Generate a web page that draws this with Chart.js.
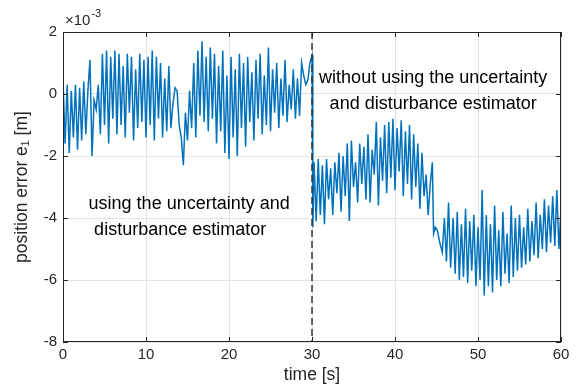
<!DOCTYPE html>
<html>
<head>
<meta charset="utf-8">
<script src="https://cdn.jsdelivr.net/npm/chart.js@4.4.1/dist/chart.umd.min.js"></script>
<style>
html,body{margin:0;padding:0;background:#fff;}
#wrap{width:581px;height:387px;position:relative;}
</style>
</head>
<body>
<div id="wrap"><canvas id="c" width="581" height="387"></canvas></div>
<script>
// time [s]
const timeS = [
0,0.25,0.5,0.75,1,1.25,1.5,1.75,2,2.25,2.5,2.75,3,3.25,3.5,3.75,4,4.25,4.5,4.75,
5,5.25,5.5,5.75,6,6.25,6.5,6.75,7,7.25,7.5,7.75,8,8.25,8.5,8.75,9,9.25,9.5,9.75,
10,10.25,10.5,10.75,11,11.25,11.5,11.75,12,12.25,12.5,12.75,13,13.25,13.5,13.75,14,14.25,14.5,14.75,
15,15.25,15.5,15.75,16,16.25,16.5,16.75,17,17.25,17.5,17.75,18,18.25,18.5,18.75,19,19.25,19.5,19.75,
20,20.25,20.5,20.75,21,21.25,21.5,21.75,22,22.25,22.5,22.75,23,23.25,23.5,23.75,24,24.25,24.5,24.75,
25,25.25,25.5,25.75,26,26.25,26.5,26.75,27,27.25,27.5,27.75,28,28.25,28.5,28.75,29,29.25,29.5,29.75,
30,30.1,30.25,30.5,30.75,31,31.25,31.5,31.75,32,32.25,32.5,32.75,33,33.25,33.5,33.75,34,34.25,34.5,34.75,
35,35.25,35.5,35.75,36,36.25,36.5,36.75,37,37.25,37.5,37.75,38,38.25,38.5,38.75,39,39.25,39.5,39.75,
40,40.25,40.5,40.75,41,41.25,41.5,41.75,42,42.25,42.5,42.75,43,43.25,43.5,43.75,44,44.25,44.5,44.65,
44.85,45.1,45.4,45.7,45.95,46.2,46.45,46.7,47,47.25,47.5,47.75,48,48.25,48.5,48.75,49,49.25,49.5,49.75,
50,50.25,50.5,50.75,51,51.25,51.5,51.75,52,52.25,52.5,52.75,53,53.25,53.5,53.75,54,54.25,54.5,54.75,
55,55.25,55.5,55.75,56,56.25,56.5,56.75,57,57.25,57.5,57.75,58,58.25,58.5,58.75,59,59.25,59.5,59.75,
60
];
// position error e1 [x10^-3 m]
const errorE1 = [
0.5,-1.6,0.3,-1.9,0.1,-1.4,0.3,-1.8,0.2,-1.5,0.4,-1.3,0.1,1.1,-2.0,-0.2,-0.5,0.3,-1.3,1.3,
-1.0,1.4,-1.6,1.2,-0.8,1.4,-1.3,1.3,-1.0,0.9,-1.4,1.3,-0.6,1.2,-1.5,0.8,-1.1,1.3,-0.9,1.1,
-1.4,1.2,-1.0,1.4,-1.5,1.2,-0.8,1.0,-1.4,0.5,-1.2,0.9,-1.1,-0.3,0.2,0.1,-1.0,-1.4,-2.3,-0.6,
-1.5,0.1,-1.1,1.0,-1.4,1.4,-0.7,1.7,-0.9,1.2,-1.2,1.5,-0.8,1.3,-1.6,0.9,-1.2,1.4,-1.9,0.6,
-2.1,1.2,-1.4,0.8,-2.0,1.3,-1.1,1.0,-1.7,1.2,-0.9,0.7,-1.5,1.1,-0.8,1.3,-1.3,0.6,-1.0,1.5,
-1.2,0.8,-0.6,1.0,-1.1,0.5,-0.7,1.1,-0.9,0.3,-0.5,0.8,-0.8,0.5,-0.7,1.0,0.6,0.3,0.45,1.0,
1.25,-4.3,-2.2,-4.1,-2.1,-3.9,-2.3,-4.2,-2.1,-3.4,-2.4,-3.9,-2.2,-3.2,-1.9,-3.8,-2.0,-3.3,-1.6,-4.1,-1.5,
-3.0,-2.2,-3.5,-1.6,-2.9,-1.7,-3.4,-1.3,-3.5,-1.8,-2.6,-0.9,-3.6,-1.4,-2.8,-1.0,-3.2,-0.9,-2.7,-0.8,
-3.1,-1.1,-2.5,-0.85,-3.3,-1.2,-2.9,-1.0,-3.4,-1.3,-3.0,-1.6,-3.7,-1.9,-3.3,-2.6,-3.9,-2.9,-2.2,-4.5,
-4.3,-4.4,-4.8,-5.1,-4.0,-5.4,-3.5,-5.6,-4.0,-5.8,-3.8,-6.0,-4.2,-5.9,-3.7,-6.1,-4.1,-5.7,-3.9,-6.2,
-4.3,-6.0,-3.1,-6.5,-3.9,-6.2,-4.2,-6.4,-3.6,-6.0,-4.4,-6.2,-3.8,-5.8,-4.5,-6.1,-3.6,-5.9,-4.0,-5.7,
-3.9,-5.6,-4.3,-5.5,-3.7,-5.4,-4.1,-5.2,-3.5,-5.3,-3.9,-5.0,-3.4,-5.1,-3.6,-4.8,-3.3,-4.9,-3.1,-5.0,
-3.7
];
// switch instant (dashed marker)
const switchTime = [30, 30];
const switchRange = [2, -8];
const xTicks = [0, 10, 20, 30, 40, 50, 60];
const yTicks = [-8, -6, -4, -2, 0, 2];
const noteLeft = ["using the uncertainty and", "disturbance estimator"];
const noteRight = ["without using the uncertainty", "and disturbance estimator"];

const FONT = "'Liberation Sans', Arial, Helvetica, sans-serif";
const AX = '#262626';

const framePlugin = {
  id: 'frame',
  afterDraw(chart) {
    const {ctx, chartArea: a, scales: {x, y}} = chart;
    ctx.save();
    ctx.strokeStyle = AX;
    ctx.lineWidth = 1;
    ctx.strokeRect(Math.round(a.left) + 0.5, Math.round(a.top) + 0.5, Math.round(a.right - a.left) - 1, Math.round(a.bottom - a.top) - 1);
    const tl = 5;
    ctx.beginPath();
    xTicks.forEach(v => {
      const px = Math.round(x.getPixelForValue(v)) + 0.5;
      ctx.moveTo(px, a.bottom); ctx.lineTo(px, a.bottom - tl);
      ctx.moveTo(px, a.top); ctx.lineTo(px, a.top + tl);
    });
    yTicks.forEach(v => {
      const py = Math.round(y.getPixelForValue(v)) + 0.5;
      ctx.moveTo(a.left, py); ctx.lineTo(a.left + tl, py);
      ctx.moveTo(a.right, py); ctx.lineTo(a.right - tl, py);
    });
    ctx.stroke();
    // exponent label
    ctx.fillStyle = AX;
    ctx.textBaseline = 'alphabetic';
    ctx.textAlign = 'left';
    ctx.font = '15px ' + FONT;
    ctx.fillText('\u00D710', a.left + 2, a.top - 7);
    const w = ctx.measureText('\u00D710').width;
    ctx.font = '11px ' + FONT;
    ctx.fillText('-3', a.left + 3 + w, a.top - 15);
    // notes
    ctx.fillStyle = '#000';
    ctx.font = '18px ' + FONT;
    ctx.textAlign = 'center';
    ctx.textBaseline = 'middle';
    const lx = x.getPixelForValue(15.2), ly = y.getPixelForValue(-3.55);
    ctx.fillText(noteLeft[0], lx, ly);
    ctx.fillText(noteLeft[1], lx - 9, ly + 26);
    const rx = x.getPixelForValue(44.6), ry = y.getPixelForValue(0.5);
    ctx.fillText(noteRight[0], rx, ry);
    ctx.fillText(noteRight[1], rx, ry + 26);
    ctx.restore();
  }
};

new Chart(document.getElementById('c'), {
  type: 'scatter',
  data: {
    datasets: [
      {
        data: timeS.map((t, i) => ({x: t, y: errorE1[i]})),
        showLine: true,
        borderColor: '#0072BD',
        borderWidth: 1.5,
        pointRadius: 0,
        tension: 0,
        order: 2
      },
      {
        data: switchTime.map((t, i) => ({x: t, y: switchRange[i]})),
        showLine: true,
        borderColor: '#333333',
        borderWidth: 1.5,
        borderDash: [7, 4],
        pointRadius: 0,
        order: 1
      }
    ]
  },
  options: {
    responsive: false,
    animation: false,
    devicePixelRatio: 1,
    layout: {padding: {left: 0, right: 20, top: 32, bottom: 0}},
    plugins: {legend: {display: false}, tooltip: {enabled: false}},
    scales: {
      x: {
        type: 'linear', min: 0, max: 60,
        afterBuildTicks: s => { s.ticks = xTicks.map(v => ({value: v})); },
        afterFit: s => { s.height = 45; },
        grid: {color: '#e3e3e3', drawTicks: false},
        border: {display: false},
        ticks: {color: AX, font: {family: FONT, size: 15}, padding: 4, maxRotation: 0},
        title: {display: true, text: 'time [s]', color: AX, font: {family: FONT, size: 17.5}, padding: {top: 0, bottom: 1.5}}
      },
      y: {
        type: 'linear', min: -8, max: 2,
        afterBuildTicks: s => { s.ticks = yTicks.map(v => ({value: v})); },
        afterFit: s => { s.width = 63; },
        grid: {color: '#e3e3e3', drawTicks: false},
        border: {display: false},
        ticks: {color: AX, font: {family: FONT, size: 15}, padding: 6},
        title: {display: true, text: 'position error e\u2081 [m]', color: AX, font: {family: FONT, size: 17.5}, padding: {top: 11.5, bottom: 0}}
      }
    }
  },
  plugins: [framePlugin]
});
</script>
</body>
</html>
